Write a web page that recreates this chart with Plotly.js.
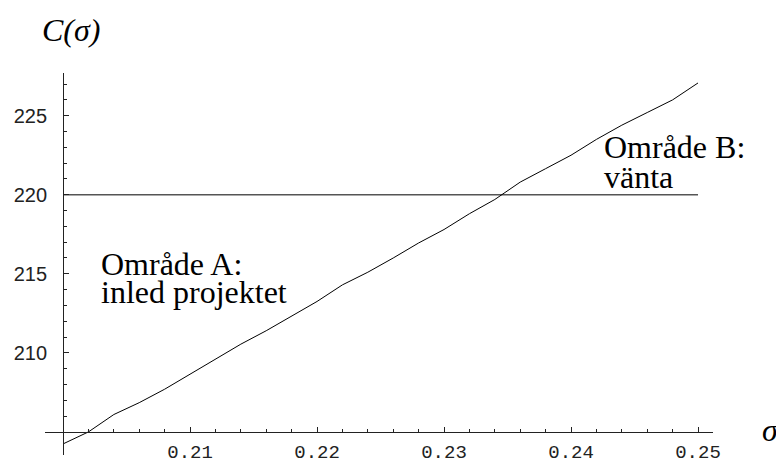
<!DOCTYPE html>
<html>
<head>
<meta charset="utf-8">
<script src="https://cdn.plot.ly/plotly-3.0.1.min.js"></script>
<style>html,body{margin:0;padding:0;background:#fff;}#chart{width:776px;height:462px;}</style>
</head>
<body>
<div id="chart"></div>
<script>
// Data
const sigma = [0.200, 0.202, 0.204, 0.206, 0.208, 0.210, 0.212, 0.214, 0.216, 0.218, 0.220, 0.222, 0.224, 0.226, 0.228, 0.230, 0.232, 0.234, 0.236, 0.238, 0.240, 0.242, 0.244, 0.246, 0.248, 0.250];
const cost  = [204.24, 205.0, 206.1, 206.85, 207.7, 208.65, 209.6, 210.55, 211.4, 212.3, 213.25, 214.3, 215.1, 216.0, 216.95, 217.8, 218.8, 219.7, 220.8, 221.65, 222.5, 223.5, 224.4, 225.2, 226.0, 227.07];
const thresholdX = [0.200, 0.250];
const thresholdY = [220, 220];

const xTickVals = [0.21, 0.22, 0.23, 0.24, 0.25];
const xTickText = ["0.21", "0.22", "0.23", "0.24", "0.25"];
const xMinorVals = [0.202, 0.204, 0.206, 0.208, 0.212, 0.214, 0.216, 0.218, 0.222, 0.224, 0.226, 0.228, 0.232, 0.234, 0.236, 0.238, 0.242, 0.244, 0.246, 0.248];
const yTickVals = [210, 215, 220, 225];
const yTickText = ["210", "215", "220", "225"];
const yMinorVals = [206, 207, 208, 209, 211, 212, 213, 214, 216, 217, 218, 219, 221, 222, 223, 224, 226, 227];

const labelA = ["Område A:", "inled projektet"];
const labelB = ["Område B:", "vänta"];

const xRange = [0.19858, 0.25118];
const yRange = [203.54, 227.70];
const xCross = 0.2, yCross = 205;

const serif = "Liberation Serif, Times New Roman, serif";

const traces = [
  {x: thresholdX, y: thresholdY, mode: "lines", line: {color: "#555", width: 1.3}, hoverinfo: "skip"},
  {x: sigma, y: cost, mode: "lines", line: {color: "#000", width: 1}, hoverinfo: "skip"}
];

const layout = {
  width: 776, height: 462,
  margin: {l: 45, r: 63, t: 73, b: 7, pad: 0},
  paper_bgcolor: "#fff", plot_bgcolor: "#fff",
  showlegend: false,
  xaxis: {
    range: xRange, showgrid: false, zeroline: false,
    showline: true, linecolor: "#222", linewidth: 1,
    anchor: "free", position: (yCross - yRange[0]) / (yRange[1] - yRange[0]),
    tickmode: "array", tickvals: xTickVals, ticktext: xTickText,
    ticks: "inside", ticklen: 5, tickwidth: 1, tickcolor: "#222",
    ticklabelstandoff: 2,
    tickfont: {family: "Liberation Mono, Courier New, monospace", size: 19, color: "#222"},
    minor: {tickmode: "array", tickvals: xMinorVals, ticks: "inside", ticklen: 3, tickwidth: 1, tickcolor: "#222", showgrid: false}
  },
  yaxis: {
    range: yRange, showgrid: false, zeroline: false,
    showline: true, linecolor: "#222", linewidth: 1,
    anchor: "free", position: (xCross - xRange[0]) / (xRange[1] - xRange[0]),
    tickmode: "array", tickvals: yTickVals, ticktext: yTickText,
    ticks: "inside", ticklen: 5, tickwidth: 1, tickcolor: "#222",
    ticklabelstandoff: 12,
    tickfont: {family: "Liberation Sans, Arial, sans-serif", size: 20, color: "#222"},
    minor: {tickmode: "array", tickvals: yMinorVals, ticks: "inside", ticklen: 3, tickwidth: 1, tickcolor: "#222", showgrid: false}
  },
  annotations: [
    {text: "<i>C(σ)</i>", xref: "paper", yref: "paper", x: -0.0075, y: 1.1126, xanchor: "left", yanchor: "middle", showarrow: false, font: {family: serif, size: 32, color: "#000"}},
    {text: "<i>σ</i>", xref: "paper", yref: "y", x: 1.0704, y: 205.1, xanchor: "left", yanchor: "middle", showarrow: false, font: {family: serif, size: 32, color: "#000"}},
    {text: labelA[0], xref: "x", yref: "y", x: 0.20282, y: 215.6, xanchor: "left", yanchor: "middle", showarrow: false, font: {family: serif, size: 32, color: "#000"}},
    {text: labelA[1], xref: "x", yref: "y", x: 0.20282, y: 213.85, xanchor: "left", yanchor: "middle", showarrow: false, font: {family: serif, size: 32, color: "#000"}},
    {text: labelB[0], xref: "x", yref: "y", x: 0.24245, y: 223.0, xanchor: "left", yanchor: "middle", showarrow: false, font: {family: serif, size: 32, color: "#000"}},
    {text: labelB[1], xref: "x", yref: "y", x: 0.24245, y: 221.1, xanchor: "left", yanchor: "middle", showarrow: false, font: {family: serif, size: 32, color: "#000"}}
  ]
};

Plotly.newPlot("chart", traces, layout, {staticPlot: true, displayModeBar: false});
</script>
</body>
</html>
